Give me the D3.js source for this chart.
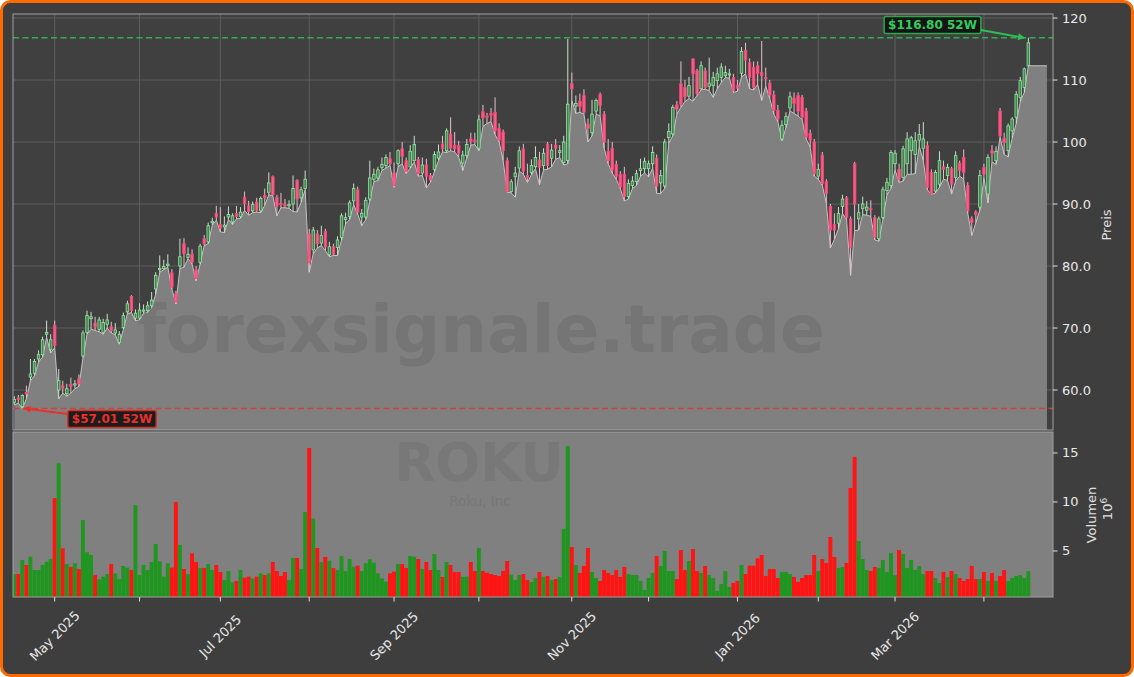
<!DOCTYPE html>
<html><head><meta charset="utf-8">
<script src="https://cdn.jsdelivr.net/npm/d3@7"></script>
<style>
html,body{margin:0;padding:0;background:#ffffff;}
svg{display:block;font-family:"DejaVu Sans",sans-serif;}
</style></head><body>
<svg id="c" width="1134" height="677"></svg>
<script>
// ---------------- DATA (trading-day index 0 = 16 Apr 2025) ----------------
const openP = [58.0,58.7,57.3,59.6,62.1,62.7,65.0,65.7,69.0,66.5,70.4,60.0,60.7,59.4,60.9,60.8,61.8,65.5,69.3,71.5,
70.8,69.8,69.3,70.6,70.2,69.2,67.7,70.1,72.6,75.1,71.6,71.6,72.7,72.8,73.6,76.3,79.4,79.6,80.2,78.9,
75.5,80.0,83.6,81.4,81.9,79.4,80.6,84.4,83.9,87.0,88.5,86.7,86.3,87.9,87.1,88.5,88.0,91.1,89.7,88.9,
90.3,88.9,91.4,91.9,94.4,91.1,90.1,89.9,89.8,90.0,93.8,91.0,92.5,85.2,82.6,85.2,83.7,85.6,81.8,83.1,
83.0,84.6,87.5,88.0,90.5,92.3,87.9,87.9,90.8,94.0,94.2,95.9,96.2,97.3,95.0,96.5,98.9,97.0,96.0,97.0,
97.2,95.0,96.3,94.6,95.6,97.4,99.7,98.6,101.3,99.5,99.4,96.6,97.8,100.5,100.3,99.0,104.9,104.2,104.6,104.8,
102.2,101.6,97.0,92.0,94.4,95.8,98.9,94.6,95.1,96.0,97.1,96.2,99.7,97.4,99.5,98.3,96.7,97.0,109.4,105.8,
106.6,107.5,102.9,101.5,105.0,107.7,104.5,98.5,99.0,96.4,94.8,94.8,91.2,93.0,93.6,95.4,95.7,95.7,96.5,97.4,
93.4,92.9,100.7,101.3,106.0,109.4,108.8,107.4,113.4,111.5,108.6,111.5,109.0,109.1,109.9,110.4,110.7,111.0,110.4,109.1,
111.1,114.8,112.8,112.0,112.3,111.2,110.4,109.5,107.6,105.1,100.5,102.8,105.5,107.1,107.5,107.2,105.0,101.4,100.0,94.5,
97.9,93.6,89.6,86.7,86.9,89.6,91.0,87.6,96.5,87.6,89.3,89.0,89.3,87.8,84.4,87.8,92.2,93.0,96.5,95.6,
94.3,96.5,98.6,98.0,100.3,99.0,99.4,95.1,92.1,93.2,96.0,94.6,95.7,94.3,96.6,97.5,93.0,87.6,88.7,89.5,
95.9,91.6,98.6,97.0,105.0,100.6,98.6,101.8,104.0,107.2,108.8,112.3];
const highP = [59.0,59.2,59.3,60.7,65.0,65.0,66.4,68.6,71.2,69.0,71.2,63.4,61.5,61.0,62.0,61.6,62.5,69.6,72.8,72.6,
71.8,71.8,71.5,72.3,71.0,70.8,69.5,72.5,74.4,75.3,73.0,74.0,73.8,74.3,75.8,79.0,81.7,81.0,81.9,79.5,
76.0,84.4,84.5,83.0,82.7,80.0,83.6,85.0,87.0,87.8,89.7,89.5,88.0,89.6,88.5,89.7,89.5,92.0,90.5,90.4,
91.0,91.2,92.5,95.1,94.6,91.5,91.8,90.8,90.6,94.6,94.0,92.8,95.4,86.0,86.3,85.8,86.5,86.0,83.9,83.6,
84.8,88.5,88.6,90.6,93.3,92.8,89.2,91.1,97.0,95.7,96.0,97.5,98.0,98.4,96.7,98.8,100.0,97.5,99.5,101.0,
97.6,97.5,97.3,95.0,98.5,99.6,101.0,102.2,104.0,101.6,100.2,98.6,100.5,101.5,101.5,104.4,106.0,104.7,105.5,107.2,
103.0,102.0,97.5,94.0,96.0,99.3,99.7,96.5,97.2,99.3,98.4,99.0,100.0,99.7,100.5,99.5,101.0,116.6,111.2,107.5,
107.8,108.5,103.8,106.8,107.0,108.0,105.0,100.5,100.0,97.0,95.3,96.0,94.0,94.5,95.5,97.3,97.5,97.0,99.3,98.0,
95.5,100.5,103.0,106.0,106.6,113.0,110.0,110.5,113.5,111.8,113.0,112.0,113.6,111.3,112.0,112.7,112.3,111.8,111.0,110.0,
115.3,116.0,113.5,113.0,113.0,116.3,112.0,110.0,108.3,106.0,103.5,104.8,108.1,108.0,108.0,107.6,105.5,102.0,100.5,96.5,
98.4,94.0,90.0,88.5,89.5,91.5,91.3,88.0,96.8,90.0,91.2,90.5,90.6,88.2,88.0,92.8,94.2,98.7,98.7,96.5,
99.4,101.6,101.0,101.6,102.9,103.2,100.1,95.6,95.5,98.5,97.0,96.5,96.0,98.5,97.0,98.8,93.5,88.0,89.0,95.5,
96.5,98.0,99.5,99.3,105.5,101.5,103.0,104.0,108.2,110.5,112.0,116.8];
const lowP = [57.6,57.9,57.01,58.6,61.5,62.3,64.5,65.3,68.5,66.0,66.8,58.6,59.5,59.0,59.5,60.2,60.6,65.2,69.0,69.8,
69.6,69.4,69.0,70.0,69.2,68.9,67.4,69.8,72.3,72.5,71.2,71.3,72.4,72.5,73.2,75.5,79.0,79.4,79.8,76.3,
73.9,79.6,79.8,81.2,80.3,77.6,80.3,83.3,83.6,86.6,87.4,85.5,85.4,87.5,86.7,87.6,87.7,89.0,88.2,88.6,
88.7,88.6,89.8,91.5,91.3,88.1,89.4,89.4,89.3,88.8,88.7,90.3,92.3,79.0,82.0,82.9,83.3,82.5,81.5,81.7,
81.7,84.2,86.8,87.5,89.9,88.4,86.5,87.5,90.5,93.6,93.8,95.4,95.8,96.2,92.7,96.0,96.5,94.9,95.8,96.8,
94.5,94.6,92.6,93.5,95.2,97.0,98.4,98.3,98.6,98.4,97.6,95.4,97.4,99.5,99.6,98.6,102.5,103.0,103.3,101.2,
100.0,97.0,91.9,91.8,91.1,95.3,94.8,93.5,94.7,95.7,93.1,95.5,95.6,96.0,97.2,97.5,96.3,96.5,106.7,104.6,
104.8,104.5,100.0,101.0,104.5,104.2,99.0,96.5,95.0,94.0,92.5,90.5,90.8,92.5,93.0,94.5,95.0,94.4,95.8,91.7,
91.7,92.5,99.8,101.0,104.5,105.6,106.5,107.0,106.6,107.5,108.4,108.5,108.3,107.2,108.6,109.6,110.4,110.3,108.0,108.2,
110.5,111.0,108.6,108.4,109.3,106.7,109.0,107.0,104.5,103.3,100.2,102.3,105.0,104.6,104.2,103.6,100.5,99.2,94.5,94.0,
93.0,90.1,82.9,84.3,86.0,88.5,87.5,78.5,85.7,85.8,88.3,88.2,88.0,84.2,84.0,87.5,91.5,92.5,95.5,93.5,
93.7,94.8,94.8,94.9,99.3,97.0,92.3,91.5,91.8,92.7,94.0,93.8,91.6,93.7,94.5,94.0,88.5,84.9,87.0,89.0,
94.2,90.2,96.8,96.4,100.8,98.0,97.6,100.6,103.0,106.5,108.0,112.3];
const closeP = [58.5,58.5,59.1,59.4,62.6,64.6,65.7,68.1,69.3,68.1,67.2,61.5,60.3,60.2,60.6,61.0,61.0,69.2,72.0,71.8,
70.2,71.3,70.9,71.3,69.6,69.7,69.0,72.0,73.9,72.8,72.4,72.9,72.9,73.6,74.5,78.5,79.6,79.9,80.3,76.6,
74.2,81.5,82.0,81.9,80.6,78.0,83.2,83.6,86.5,87.2,87.9,86.1,86.6,88.3,88.1,88.0,88.7,90.1,88.8,89.9,
89.0,90.9,91.0,93.4,91.5,89.6,90.0,89.8,89.9,92.5,90.8,92.3,94.0,80.5,85.8,83.6,84.9,83.1,83.1,81.9,
84.2,88.1,87.8,90.2,92.5,88.7,88.5,90.6,94.2,94.8,95.5,96.4,97.5,96.5,93.0,98.6,97.7,95.3,98.5,99.6,
94.9,96.3,94.5,93.9,98.0,98.4,98.9,101.8,99.0,98.9,98.2,97.9,99.6,100.1,100.1,103.6,103.9,104.0,104.3,101.8,
100.3,98.6,92.0,93.6,95.0,98.6,95.3,94.2,96.2,97.5,95.9,98.2,96.2,98.7,99.0,98.6,100.0,106.1,108.6,106.2,
105.7,104.8,102.2,104.5,106.7,105.9,100.0,97.0,95.5,94.5,92.8,91.2,93.3,93.7,94.9,95.7,96.9,96.5,98.3,92.9,
94.6,100.0,101.7,105.6,105.3,106.1,107.3,109.1,111.0,107.8,112.3,108.8,109.5,110.4,111.0,112.1,111.2,111.0,108.3,108.7,
114.6,113.2,110.4,108.8,111.1,110.7,110.3,107.6,105.1,103.7,102.7,104.1,107.3,106.2,105.0,104.0,100.8,100.3,94.9,95.6,
93.3,91.7,85.8,85.8,88.5,90.8,87.8,83.0,90.0,88.6,90.0,89.5,89.1,84.6,87.6,92.3,93.5,98.3,98.2,94.0,
98.9,100.5,100.7,100.2,101.2,100.5,92.7,91.6,95.1,97.0,95.6,95.9,93.2,97.8,95.4,95.1,88.9,87.0,88.3,94.6,
94.8,97.5,98.2,98.5,101.0,99.9,102.6,103.7,107.7,109.9,111.8,116.0];
// volume in millions
const volume = [2.65,2.65,4.08,3.57,4.42,3.06,3.06,3.57,3.91,4.18,10.4,13.95,5.28,3.67,3.37,3.74,3.16,8.16,4.87,4.59,
2.55,2.11,2.38,2.65,3.67,2.72,2.14,3.47,3.30,3.06,9.69,2.55,3.57,3.06,3.88,5.71,3.94,2.38,3.74,3.30,
10.0,5.61,3.16,2.65,4.76,3.88,3.27,3.27,3.67,3.06,3.57,2.86,2.04,2.96,1.80,1.94,3.06,2.28,2.38,2.21,
2.38,2.72,2.55,2.72,3.88,2.96,2.45,2.86,2.04,4.29,4.29,3.16,8.98,15.5,8.3,5.31,3.88,4.39,4.01,3.27,
3.06,4.49,2.96,4.18,3.40,3.50,2.96,3.74,4.18,3.81,2.72,2.21,1.87,2.72,2.89,3.67,3.67,3.27,4.49,4.42,
4.18,3.16,3.88,3.06,4.69,3.06,2.35,3.88,3.57,2.86,2.86,2.35,2.38,3.88,2.96,5.31,2.96,2.79,2.65,2.55,
2.45,2.96,3.98,2.60,2.04,2.55,2.65,2.04,1.84,2.24,2.86,2.35,2.45,2.04,2.14,2.35,7.25,15.7,5.41,3.57,
2.76,3.47,5.31,2.86,2.24,1.94,3.06,2.76,2.55,3.06,2.35,3.37,2.65,2.55,2.55,1.94,1.02,2.24,2.76,4.49,
3.47,5.0,2.96,2.96,2.14,5.1,3.06,3.98,5.2,2.96,2.76,3.47,2.55,2.24,0.92,1.64,2.96,1.33,1.74,1.94,
3.57,2.65,3.5,3.5,4.25,4.59,2.45,3.16,3.16,2.24,2.86,2.86,2.65,2.35,1.84,2.24,2.55,2.55,4.59,2.96,
4.18,3.78,6.43,4.39,3.27,3.37,3.78,11.43,14.6,6.02,4.18,3.06,2.96,3.37,3.27,4.08,2.86,4.8,2.55,5.1,
4.69,3.27,4.08,3.06,3.47,2.65,2.96,2.96,2.24,1.74,2.86,2.35,2.96,2.65,2.24,1.94,2.14,3.47,2.14,2.14,
2.86,1.94,2.76,1.94,2.45,3.06,1.94,2.24,2.45,2.55,2.24,2.96];
// month starts (trading-day index) and their labels
const tickIndex = [10,31,51,73,94,115,138,157,179,199,218,240];
const tickLabels = ["May 2025","","Jul 2025","","Sep 2025","","Nov 2025","","Jan 2026","","Mar 2026",""];
const priceTicks = [120,110,100,90,80,70,60];
const priceTickLabels = ["120","110","100","90.0","80.0","70.0","60.0"];
const volTicks = [5,10,15];
const volTickLabels = ["5","10","15"];
const high52 = 116.80, low52 = 57.01;
const high52Label = "$116.80 52W", low52Label = "$57.01 52W";
const ticker = "ROKU", company = "Roku, Inc", watermark = "forexsignale.trade";

// ---------------- LAYOUT ----------------
const W = 1134, H = 677;
const P = {x0: 13, x1: 1053, y0: 14, y1: 430};
const V = {y0: 432, y1: 597};
const svg = d3.select("#c");

const x = d3.scaleLinear().domain([-0.32, 257.1]).range([P.x0, P.x1]);
const y = d3.scaleLinear().domain([53.55, 120.65]).range([P.y1, P.y0]);
const yv = d3.scaleLinear().domain([0.306, 17.14]).range([V.y1, V.y0]);
const slot = x(1) - x(0);
const n = closeP.length;
const data = d3.range(n).map(i => ({i, o: openP[i], h: highP[i], l: lowP[i], c: closeP[i], v: volume[i]}));

// figure background with orange rounded border
svg.append("rect").attr("x", 1.5).attr("y", 1.5).attr("width", W - 3).attr("height", H - 3)
  .attr("rx", 9).attr("fill", "#3e3e3e").attr("stroke", "#ff6a00").attr("stroke-width", 3);

const defs = svg.append("defs");
defs.append("clipPath").attr("id", "pclip").append("rect")
  .attr("x", P.x0).attr("y", P.y0).attr("width", P.x1 - P.x0).attr("height", P.y1 - P.y0);
defs.append("clipPath").attr("id", "vclip").append("rect")
  .attr("x", P.x0).attr("y", V.y0).attr("width", P.x1 - P.x0).attr("height", V.y1 - V.y0);
["g", "r"].forEach(k => {
  defs.append("marker").attr("id", "arr" + k).attr("viewBox", "0 0 10 10").attr("refX", 9).attr("refY", 5)
    .attr("markerWidth", 9).attr("markerHeight", 7).attr("markerUnits", "userSpaceOnUse").attr("orient", "auto")
    .append("path").attr("d", "M0,0 L10,5 L0,10 z").attr("fill", k === "g" ? "#2fbf55" : "#e8302c");
});

// ---------------- PRICE PANEL ----------------
const pg = svg.append("g").attr("clip-path", "url(#pclip)");
pg.append("rect").attr("x", P.x0).attr("y", P.y0).attr("width", P.x1 - P.x0).attr("height", P.y1 - P.y0).attr("fill", "#404040");
// grid
pg.selectAll("line.hg").data(priceTicks).join("line").attr("class", "hg")
  .attr("x1", P.x0).attr("x2", P.x1).attr("y1", d => y(d)).attr("y2", d => y(d))
  .attr("stroke", "#5e5e5e").attr("stroke-width", 1);
pg.selectAll("line.vg").data(tickIndex).join("line").attr("class", "vg")
  .attr("x1", d => x(d)).attr("x2", d => x(d)).attr("y1", P.y0).attr("y2", P.y1)
  .attr("stroke", "#5e5e5e").attr("stroke-width", 1);

// area under lows, carried flat past last candle
const areaPts = data.map(d => [d.i, d.l]).concat([[n - 1 + 4.6, lowP[n - 1]]]);
pg.append("path").datum(areaPts)
  .attr("d", d3.area().x(d => x(d[0])).y0(P.y1).y1(d => y(d[1])))
  .attr("fill", "#808080");
pg.append("path").datum(areaPts)
  .attr("d", d3.line().x(d => x(d[0])).y(d => y(d[1])))
  .attr("fill", "none").attr("stroke", "#c4c4c4").attr("stroke-width", 1);

// watermark
pg.append("text").attr("x", 481).attr("y", 352).attr("text-anchor", "middle")
  .attr("font-size", 66).attr("font-weight", "bold").attr("fill", "#606060").attr("fill-opacity", 0.36)
  .text(watermark);

// candles
const cg = pg.append("g");
const bw = slot * 0.62;
cg.selectAll("line.wick").data(data).join("line").attr("class", "wick")
  .attr("x1", d => x(d.i)).attr("x2", d => x(d.i)).attr("y1", d => y(d.h)).attr("y2", d => y(d.l))
  .attr("stroke", d => d.c >= d.o ? "#c8e0cc" : "#e6bfca").attr("stroke-width", 1);
cg.selectAll("rect.body").data(data).join("rect").attr("class", "body")
  .attr("x", d => x(d.i) - bw / 2).attr("width", bw)
  .attr("y", d => y(Math.max(d.o, d.c)))
  .attr("height", d => Math.max(1.2, Math.abs(y(d.o) - y(d.c))))
  .attr("fill", d => d.c >= d.o ? "#4a7d52" : "#f0628a")
  .attr("stroke", d => d.c >= d.o ? "#8fe8a0" : "#ff4275").attr("stroke-width", 0.8);

// 52W lines
pg.append("line").attr("x1", P.x0).attr("x2", P.x1).attr("y1", y(high52)).attr("y2", y(high52))
  .attr("stroke", "#2fae55").attr("stroke-width", 1.5).attr("stroke-dasharray", "6,3.5");
pg.append("line").attr("x1", P.x0).attr("x2", P.x1).attr("y1", y(low52)).attr("y2", y(low52))
  .attr("stroke", "#d0403c").attr("stroke-width", 1.5).attr("stroke-dasharray", "6,3.5");

// frame
svg.append("rect").attr("x", P.x0).attr("y", P.y0).attr("width", P.x1 - P.x0).attr("height", P.y1 - P.y0)
  .attr("fill", "none").attr("stroke", "#a0a0a0").attr("stroke-width", 1);

// annotations
const hiIdx = d3.maxIndex(highP), loIdx = d3.minIndex(lowP);
function badge(label, cx, cy, col, txtCol) {
  const g = svg.append("g");
  const t = g.append("text").attr("x", cx).attr("y", cy).attr("text-anchor", "middle")
    .attr("dominant-baseline", "central").attr("font-size", 12).attr("font-weight", "bold")
    .attr("fill", txtCol).text(label);
  const bb = t.node().getBBox();
  g.insert("rect", "text").attr("x", bb.x - 4).attr("y", cy - 8.5).attr("width", bb.width + 8).attr("height", 17)
    .attr("rx", 2).attr("fill", "#111111").attr("fill-opacity", 0.9).attr("stroke", col).attr("stroke-width", 1.5);
  return {x0: bb.x - 4, x1: bb.x + bb.width + 4};
}
const gb = badge(high52Label, 932.5, 25, "#2ca84a", "#33cc5c");
svg.append("line").attr("x1", gb.x1).attr("y1", 30).attr("x2", x(hiIdx) - 4).attr("y2", y(high52))
  .attr("stroke", "#2fbf55").attr("stroke-width", 2).attr("marker-end", "url(#arrg)");
const rb = badge(low52Label, 112, 419, "#d0302c", "#e8302c");
svg.append("line").attr("x1", rb.x0).attr("y1", 414).attr("x2", x(loIdx) + 2).attr("y2", y(low52))
  .attr("stroke", "#e8302c").attr("stroke-width", 2).attr("marker-end", "url(#arrr)");

// price axis
const pa = svg.append("g");
pa.selectAll("line").data(priceTicks).join("line")
  .attr("x1", P.x1).attr("x2", P.x1 + 4.5).attr("y1", d => y(d)).attr("y2", d => y(d))
  .attr("stroke", "#e0e0e0");
pa.selectAll("text").data(priceTicks).join("text")
  .attr("x", P.x1 + 9).attr("y", d => y(d)).attr("dominant-baseline", "central")
  .attr("font-size", 13).attr("fill", "#e8e8e8").text((d, k) => priceTickLabels[k]);
svg.append("text").attr("transform", `translate(1111,${(P.y0 + P.y1) / 2 + 3}) rotate(-90)`)
  .attr("text-anchor", "middle").attr("font-size", 13).attr("fill", "#e0e0e0").text("Preis");

// ---------------- VOLUME PANEL ----------------
const vg = svg.append("g").attr("clip-path", "url(#vclip)");
vg.append("rect").attr("x", P.x0).attr("y", V.y0).attr("width", P.x1 - P.x0).attr("height", V.y1 - V.y0).attr("fill", "#808080");
vg.append("text").attr("x", 479).attr("y", 481).attr("text-anchor", "middle").attr("font-size", 53)
  .attr("font-weight", "bold").attr("fill", "#6e6e6e").attr("fill-opacity", 0.45).text(ticker);
vg.append("text").attr("x", 480).attr("y", 506).attr("text-anchor", "middle").attr("font-size", 13.5)
  .attr("fill", "#6e6e6e").attr("fill-opacity", 0.5).text(company);
vg.selectAll("rect.vb").data(data).join("rect").attr("class", "vb")
  .attr("x", d => x(d.i) - slot / 2).attr("width", slot * 0.98)
  .attr("y", d => yv(d.v)).attr("height", d => V.y1 - yv(d.v))
  .attr("fill", d => d.c >= d.o ? "#1f961f" : "#ff1414");
svg.append("rect").attr("x", P.x0).attr("y", V.y0).attr("width", P.x1 - P.x0).attr("height", V.y1 - V.y0)
  .attr("fill", "none").attr("stroke", "#a0a0a0").attr("stroke-width", 1);

// volume axis
const va = svg.append("g");
va.selectAll("line").data(volTicks).join("line")
  .attr("x1", P.x1).attr("x2", P.x1 + 4.5).attr("y1", d => yv(d)).attr("y2", d => yv(d)).attr("stroke", "#e0e0e0");
va.selectAll("text").data(volTicks).join("text")
  .attr("x", P.x1 + 9).attr("y", d => yv(d)).attr("dominant-baseline", "central")
  .attr("font-size", 13).attr("fill", "#e8e8e8").text((d, k) => volTickLabels[k]);
svg.append("text").attr("transform", `translate(1096,515) rotate(-90)`)
  .attr("text-anchor", "middle").attr("font-size", 13).attr("fill", "#e0e0e0").text("Volumen");
const vl2 = svg.append("text").attr("transform", `translate(1112,509) rotate(-90)`)
  .attr("text-anchor", "middle").attr("font-size", 13).attr("fill", "#e0e0e0");
vl2.append("tspan").text("10");
vl2.append("tspan").attr("font-size", 9).attr("dy", -5).text("6");

// x axis
const xa = svg.append("g");
xa.selectAll("line").data(tickIndex).join("line")
  .attr("x1", d => x(d)).attr("x2", d => x(d)).attr("y1", V.y1).attr("y2", V.y1 + 4.5).attr("stroke", "#e0e0e0");
xa.selectAll("text").data(tickIndex).join("text")
  .attr("transform", d => `translate(${x(d)},636) rotate(-45)`)
  .attr("text-anchor", "middle").attr("dominant-baseline", "central")
  .attr("font-size", 13).attr("fill", "#e8e8e8").text((d, k) => tickLabels[k]);
</script>
</body></html>
